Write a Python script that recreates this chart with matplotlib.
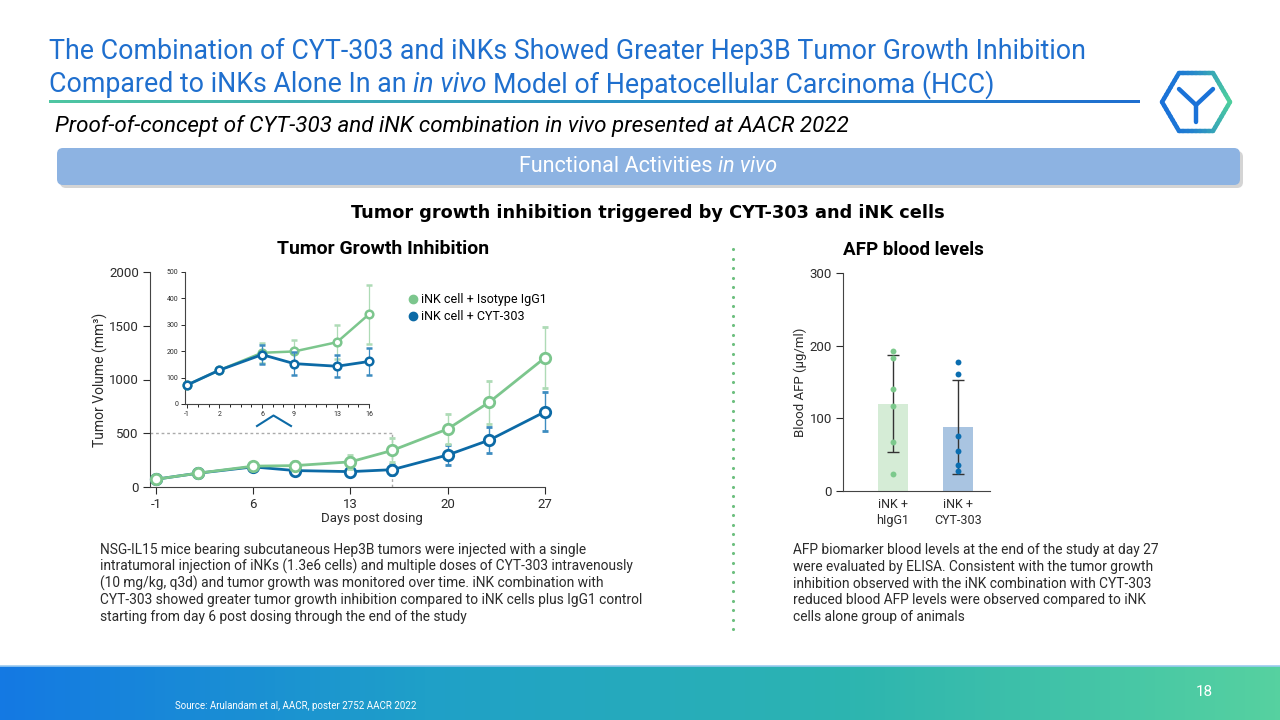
import numpy as np
import matplotlib.pyplot as plt
from matplotlib.patches import FancyBboxPatch
from matplotlib.lines import Line2D
from matplotlib.colors import LinearSegmentedColormap, to_rgb

plt.rcParams['font.family'] = ['Roboto', 'DejaVu Sans']
plt.rcParams['axes.unicode_minus'] = False

# ---- data ----
days = [-1, 2, 6, 9, 13, 16, 20, 23, 27]
igg1_mean = [72, 128, 194, 199, 234, 340, 540, 790, 1203]
igg1_err = [5, 8, 38, 42, 65, 112, 142, 200, 283]
cyt_mean = [72, 128, 187, 153, 143, 161, 298, 437, 700]
cyt_err = [5, 8, 35, 45, 42, 50, 90, 120, 180]
n_inset = 6  # days -1 .. 16 in the zoomed inset
guide_day, guide_vol = 16, 500

afp_groups = ['iNK +\nhIgG1', 'iNK +\nCYT-303']
afp_mean = [120, 88]
afp_sd = [67, 65]
afp_igg1_pts = [193, 183, 141, 117, 67, 23]
afp_cyt_pts = [177, 161, 76, 55, 36, 28]

left_caption = [
    "NSG-IL15 mice bearing subcutaneous Hep3B tumors were injected with a single",
    "intratumoral injection of iNKs (1.3e6 cells) and multiple doses of CYT-303 intravenously",
    "(10 mg/kg, q3d) and tumor growth was monitored over time. iNK combination with",
    "CYT-303 showed greater tumor growth inhibition compared to iNK cells plus IgG1 control",
    "starting from day 6 post dosing through the end of the study",
]
right_caption = [
    "AFP biomarker blood levels at the end of the study at day 27",
    "were evaluated by ELISA. Consistent with the tumor growth",
    "inhibition observed with the iNK combination with CYT-303",
    "reduced blood AFP levels were observed compared to iNK",
    "cells alone group of animals",
]

green = '#7cc68d'
green_light = '#aedbb6'
blue = '#0c6aa6'
blue_light = '#3d8cc0'
title_blue = '#1f6fce'
txt = '#2b2b2b'

fig = plt.figure(figsize=(12.8, 7.2), dpi=100)
bg = fig.add_axes([0, 0, 1, 1], zorder=0)
bg.set_xlim(0, 1280)
bg.set_ylim(720, 0)
bg.axis('off')
R = fig.canvas.get_renderer()


def fit_size(s, width, **kw):
    t = bg.text(0, 0, s, fontsize=10, **kw)
    w = t.get_window_extent(R).width
    t.remove()
    return 10 * width / w


def parts_text(x, y, parts, size, color, ha='left', weight='normal'):
    objs = [bg.text(0, y, s, fontsize=size, color=color, style=st,
                    weight=weight, va='center') for s, st in parts]
    ws = [o.get_window_extent(R).width for o in objs]
    gap = 0.25 * size * 100 / 72
    total = sum(ws) + gap * (len(ws) - 1)
    x0 = x - total / 2 if ha == 'center' else x
    for o, w in zip(objs, ws):
        o.set_x(x0)
        x0 += w + gap


# ---- header ----
title1 = "The Combination of CYT-303 and iNKs Showed Greater Hep3B Tumor Growth Inhibition"
ts = fit_size(title1, 1034)
bg.text(49, 51, title1, fontsize=ts, color=title_blue, va='center')
parts_text(49, 85, [("Compared to iNKs Alone In an", 'normal'), ("in vivo", 'italic'),
                    ("Model of Hepatocellular Carcinoma (HCC)", 'normal')], ts, title_blue)

grad = LinearSegmentedColormap.from_list('u', ['#4fc6a2', '#2a93c4', '#1f6fd0'])
bg.imshow(np.linspace(0, 1, 256)[None, :], cmap=grad, extent=[49, 1140, 103.5, 100.5],
          aspect='auto', zorder=1)

sub = "Proof-of-concept of CYT-303 and iNK combination in vivo presented at AACR 2022"
bg.text(55, 126, sub, fontsize=fit_size(sub, 788, style='italic'), style='italic',
        color='black', va='center')

# logo
cx, cy, rx, ry = 1196, 102, 34, 29
hexv = [(cx - rx, cy), (cx - rx / 2, cy - ry), (cx + rx / 2, cy - ry), (cx + rx, cy),
        (cx + rx / 2, cy + ry), (cx - rx / 2, cy + ry)]
c0, c1 = np.array(to_rgb('#1a72d8')), np.array(to_rgb('#4fd19c'))
for i in range(6):
    p, q = np.array(hexv[i]), np.array(hexv[(i + 1) % 6])
    for k in range(8):
        a = p + (q - p) * k / 8
        b = p + (q - p) * (k + 1) / 8
        f = np.clip(((a[0] + b[0]) / 2 - (cx - rx)) / (2 * rx), 0, 1) ** 2
        bg.plot([a[0], b[0]], [a[1], b[1]], color=c0 + (c1 - c0) * f, lw=3.2,
                solid_capstyle='round')
bg.plot([1179, 1196, 1213], [89, 105, 89], color='#1a72d8', lw=3.2, solid_capstyle='round')
bg.plot([1196, 1196], [105, 122], color='#1a72d8', lw=3.2, solid_capstyle='round')

# banner
bg.add_patch(FancyBboxPatch((60, 151), 1183, 37, boxstyle='round,pad=0,rounding_size=6',
                            fc='#b8b8b8', ec='none', alpha=0.6, zorder=1))
bg.add_patch(FancyBboxPatch((57, 148), 1183, 37, boxstyle='round,pad=0,rounding_size=6',
                            fc='#8db3e2', ec='none', zorder=2))
bs = fit_size("Functional Activities in vivo", 260)
parts_text(648, 166, [("Functional Activities", 'normal'), ("in vivo", 'italic')], bs, 'white',
           ha='center')

head = "Tumor growth inhibition triggered by CYT-303 and iNK cells"
bg.text(648, 213, head, fontsize=fit_size(head, 595, weight='bold', family='DejaVu Sans'),
        weight='bold', family='DejaVu Sans', ha='center', va='center', color='black')

# divider dots
bg.scatter(np.full(41, 733), np.arange(249, 633, 9.5)[:41], s=5, color='#6dbf7f', lw=0)

# footer
fcm = LinearSegmentedColormap.from_list('f', ['#1479e3', '#1fa0c8', '#2db5b0', '#56d1a0'])
bg.imshow(np.linspace(0, 1, 256)[None, :], cmap=fcm, extent=[0, 1280, 720, 666], aspect='auto',
          zorder=1)
bg.plot([0, 1280], [666, 666], color='#9ccbf0', lw=1.2, zorder=2)
bg.text(1213, 692, "18", fontsize=11, color='white', ha='right', va='center')
src = "Source: Arulandam et al, AACR, poster 2752 AACR 2022"
bg.text(175, 706, src, fontsize=fit_size(src, 242), color='white', va='center')
bg.set_xlim(0, 1280)
bg.set_ylim(720, 0)

# captions
cs = fit_size(left_caption[0], 489)
for i, line in enumerate(left_caption):
    bg.text(100, 550 + i * 16.8, line, fontsize=cs, color=txt, va='center')
for i, line in enumerate(right_caption):
    bg.text(793, 550 + i * 16.8, line, fontsize=cs, color=txt, va='center')

# ---- main tumour growth chart ----
ax = fig.add_axes([150 / 1280, 233 / 720, 395 / 1280, 215 / 720], zorder=2)
ax.patch.set_alpha(0)
ax.plot([-1.43, guide_day], [guide_vol, guide_vol], ls=(0, (2, 2)), color='#aaaaaa', lw=1)
ax.plot([guide_day, guide_day], [0, guide_vol], ls=(0, (2, 2)), color='#aaaaaa', lw=1)
ax.errorbar(days, cyt_mean, yerr=cyt_err, color=blue, ecolor=blue_light, elinewidth=1,
            capsize=2.5, lw=2, marker='o', ms=7.5, mfc='white', mew=2, zorder=3, clip_on=False)
ax.errorbar(days, igg1_mean, yerr=igg1_err, color=green, ecolor=green_light, elinewidth=1,
            capsize=2.5, lw=2, marker='o', ms=7.5, mfc='white', mew=2, zorder=4, clip_on=False)
ax.set_xlim(-1.43, 27)
ax.set_ylim(0, 2000)
ax.set_xticks([-1, 6, 13, 20, 27])
ax.set_yticks([0, 500, 1000, 1500, 2000])
for s in ['top', 'right']:
    ax.spines[s].set_visible(False)
for s in ['left', 'bottom']:
    ax.spines[s].set_color('#444444')
ax.tick_params(labelsize=9.5, colors=txt, length=5, pad=3)
ax.set_xlabel("Days post dosing", fontsize=9.5, color=txt)
ax.xaxis.set_label_coords(0.562, -0.115)
ax.set_ylabel("Tumor Volume (mm³)", fontsize=10, color=txt)
ax.yaxis.set_label_coords(-0.106, 0.5)
ax.set_title("Tumor Growth Inhibition", fontsize=fit_size("Tumor Growth Inhibition", 212,
             weight='bold'), weight='bold', pad=13, x=0.59)
ax.legend(handles=[Line2D([], [], ls='', marker='o', color=green, ms=6),
                   Line2D([], [], ls='', marker='o', color=blue, ms=6)],
          labels=["iNK cell + Isotype IgG1", "iNK cell + CYT-303"], frameon=False,
          loc='upper left', bbox_to_anchor=(400 / 1280, 1 - 287 / 720),
          bbox_transform=fig.transFigure, handletextpad=0.2, labelspacing=0.3,
          handlelength=1.0, fontsize=9, borderpad=0)

# inset
axi = fig.add_axes([185 / 1280, 316 / 720, 184 / 1280, 132 / 720], zorder=3)
axi.patch.set_alpha(0)
axi.errorbar(days[:n_inset], igg1_mean[:n_inset], yerr=igg1_err[:n_inset], color=green,
             ecolor=green_light, elinewidth=0.9, capsize=2, lw=1.8, marker='o', ms=5.5,
             mfc='white', mew=1.8, zorder=3, clip_on=False)
axi.errorbar(days[:n_inset], cyt_mean[:n_inset], yerr=cyt_err[:n_inset], color=blue,
             ecolor=blue_light, elinewidth=0.9, capsize=2, lw=2, marker='o', ms=5.5,
             mfc='white', mew=1.8, zorder=4, clip_on=False)
axi.set_xlim(-1.2, 16)
axi.set_ylim(0, 500)
axi.set_xticks([-1, 2, 6, 9, 13, 16])
axi.set_xticks(np.arange(-1, 17), minor=True)
axi.set_yticks(np.arange(0, 501, 100))
for s in ['top', 'right']:
    axi.spines[s].set_visible(False)
for s in ['left', 'bottom']:
    axi.spines[s].set_color('#444444')
    axi.spines[s].set_linewidth(0.8)
axi.tick_params(labelsize=5, colors=txt, length=3, width=0.7, pad=2)
axi.tick_params(which='minor', length=2, width=0.6)
bg.plot([257, 273.5, 291], [426, 415.5, 426], color=blue, lw=1.5, zorder=3)

# ---- AFP chart ----
axa = fig.add_axes([843 / 1280, 229 / 720, 147 / 1280, 218 / 720], zorder=2)
axa.patch.set_alpha(0)
xpos = np.arange(len(afp_groups))
axa.bar(xpos, afp_mean, width=0.46, color=['#d5ecd6', '#a9c4e1'], zorder=1)
axa.errorbar(xpos, afp_mean, yerr=afp_sd, fmt='none', ecolor='#333333', elinewidth=1,
             capsize=4.5, zorder=2)
axa.scatter(np.zeros(len(afp_igg1_pts)), afp_igg1_pts, s=18, color='#7cc98c', lw=0, zorder=3)
axa.scatter(np.ones(len(afp_cyt_pts)), afp_cyt_pts, s=18, color='#0a6db0', lw=0, zorder=3)
axa.set_xlim(-0.76, 1.49)
axa.set_ylim(0, 300)
axa.set_yticks([0, 100, 200, 300])
axa.set_xticks(xpos)
axa.set_xticklabels(afp_groups, linespacing=1.3)
for s in ['top', 'right']:
    axa.spines[s].set_visible(False)
for s in ['left', 'bottom']:
    axa.spines[s].set_color('#444444')
axa.tick_params(axis='y', labelsize=9.5, colors=txt, length=5, pad=3)
axa.tick_params(axis='x', labelsize=9, colors=txt, length=0, pad=5)
axa.set_ylabel("Blood AFP (µg/ml)", fontsize=9.5, color=txt)
axa.yaxis.set_label_coords(-0.245, 0.5)
axa.set_title("AFP blood levels", fontsize=fit_size("AFP blood levels", 141, weight='bold'),
              weight='bold', pad=13, x=0.48)

fig.savefig('out.png', dpi=100)
